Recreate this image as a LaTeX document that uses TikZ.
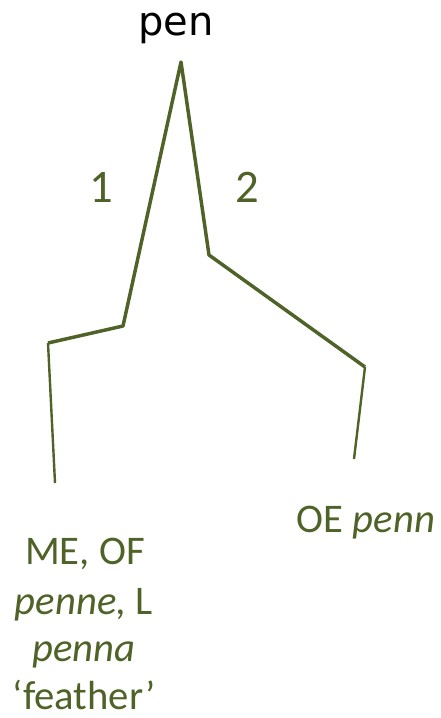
\documentclass[tikz,border=0pt]{standalone}
\usepackage{fontspec}
\setmainfont{Carlito}
\newfontfamily\gfont{Carlito}
\newfontfamily\pfont{DejaVu Sans}
\definecolor{olive}{HTML}{4F6228}
\tikzset{
  gtext/.style={text=olive, font=\gfont\fontsize{30.5}{36}\selectfont, anchor=base, inner sep=0pt},
  numtext/.style={text=olive, font=\gfont\fontsize{35}{42}\selectfont, anchor=center, inner sep=0pt},
  thick branch/.style={draw=olive, line width=2.6pt, line join=round},
  thin branch/.style={draw=olive, line width=1.8pt, line join=round},
}
\begin{document}
\begin{tikzpicture}[x=0.75pt,y=-0.75pt]
\useasboundingbox (0,0) rectangle (441,718);
\node[font=\pfont\fontsize{30}{36}\selectfont, anchor=base, inner sep=0pt] (root) at (176,35) {pen};
\coordinate (apex) at (181,62);
\coordinate (l1) at (123,326);
\coordinate (l2) at (48,343);
\coordinate (l3) at (55,483);
\coordinate (r1) at (209,255);
\coordinate (r2) at (365,367);
\coordinate (r3) at (354,459);
\draw[thick branch] (l2) -- (l1) -- (apex) -- (r1) -- (r2);
\draw[thin branch] (l2) -- (l3);
\draw[thin branch] (r2) -- (r3);
\node[numtext] (n1) at (101,187) {1};
\node[numtext] (n2) at (247,187) {2};
\node[gtext] (a1) at (85,564) {ME, OF};
\node[gtext] (a2) at (84,614) {\itshape penne,\upshape{} L};
\node[gtext] (a3) at (84,661) {\itshape penna};
\node[gtext] (a4) at (84,709) {‘feather’};
\node[gtext] (b1) at (366,532) {OE \itshape penn};
\end{tikzpicture}
\end{document}
